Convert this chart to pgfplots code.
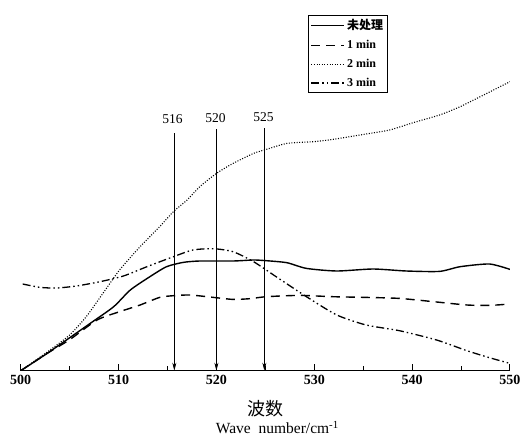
\documentclass[border=0pt]{standalone}
\usepackage{fontspec}
\setmainfont{Liberation Serif}
\newfontfamily\cjk{Noto Sans CJK SC}
\usepackage{pgfplots}
\pgfplotsset{compat=1.18}
\usetikzlibrary{arrows.meta}

\begin{document}
\begin{tikzpicture}
\useasboundingbox (-20.7pt,-74.3pt) rectangle (510.3pt,370.7pt);
\begin{axis}[
    scale only axis,
    width=489.3pt, height=300pt,
    xmin=500, xmax=550, ymin=0, ymax=300,
    axis x line=bottom, axis y line=none,
    axis line style={-, line width=1.3pt},
    xtick={500,510,...,550},
    minor x tick num=1,
    tick align=inside,
    major tick length=7pt, minor tick length=5pt,
    every tick/.style={black, line width=1pt},
    xticklabel style={font=\fontsize{14}{14}\selectfont\bfseries, yshift=-1pt},
    /pgf/number format/assume math mode=true,
    /pgf/number format/1000 sep={},
    xlabel={{\cjk\fontsize{18}{18}\selectfont 波数}\\[3pt]\hspace*{24pt}{\fontsize{15.5}{15.5}\selectfont Wave\ \ number/cm\textsuperscript{-1}}},
    xlabel style={align=center, at={(axis description cs:0.5,0)}, anchor=north, yshift=-26pt},
    legend style={at={(0.587,1.186)}, anchor=north west, draw=black,
        font=\fontsize{12}{12}\selectfont\bfseries, row sep=5pt, inner sep=2.5pt},
    legend cell align=left,
    legend image code/.code={\draw[#1] (0pt,0pt) -- (33pt,0pt);},
]
% 未处理
\addplot[black, line width=1.4pt, smooth, tension=0.4] coordinates {
(500,0) (502.7,17.3) (507.1,47.3) (509.5,64) (511.2,80.7) (513.2,94) (514.9,104)
(516.6,108.3) (518.3,109.7) (521.7,109.7) (523.8,110.7) (525.1,110) (527.2,108)
(529.2,102.3) (532.3,99.7) (536,101.7) (539.4,99.7) (542.8,99.3) (544.9,104)
(547.9,106.7) (550,101.3)};
% 1 min
\addplot[black, line width=1.4pt, dash pattern=on 9pt off 6pt, smooth, tension=0.4] coordinates {
(500,0) (502.7,17.3) (505,31) (507.8,50.7) (510.1,59) (512.2,65.7) (514.2,73.3)
(515.6,75) (517.3,75.7) (519.7,73.3) (521.7,71.3) (523.4,72) (525.1,74) (528.5,75.3)
(531.9,74) (535.3,73.3) (538.7,72.3) (542.2,69) (545.6,65.7) (547.9,65.3) (550,66.7)};
% 2 min
\addplot[black, line width=1.1pt, dash pattern=on 1pt off 1.6pt, smooth, tension=0.4] coordinates {
(500,0) (503,20.7) (505,35.7) (506.7,54) (508.4,77.3) (510.1,100.7) (512.2,124)
(514.2,144) (515.6,159) (517,170.7) (518.3,184) (520,197.3) (521.7,207.3)
(523.8,217.3) (525.1,221.3) (527.2,227.3) (529.9,229) (531.9,231.3) (535.3,236.7)
(537.7,240.7) (540.1,248) (542.8,255.7) (544.9,264) (547.3,275.7) (550,289)};
% 3 min
\addplot[black, line width=1.3pt, dash pattern=on 8pt off 3pt on 1.5pt off 3pt on 1.5pt off 3pt, smooth, tension=0.4] coordinates {
(500.2,86.7) (502,83.3) (503.7,82.7) (505.7,84.7) (508.1,89) (510.5,94.7)
(512.9,104) (515.6,114) (517.6,120.7) (519.7,122) (521.7,119) (523.8,109)
(526.1,94) (529.2,74) (532.3,55.7) (535.3,45.7) (538.7,40) (542.5,30.7)
(545.6,20) (547.9,13) (550,7.3)};
\legend{{\cjk 未处理}, 1 min, 2 min, 3 min}

% peak markers
\addplot[black, line width=0.7pt, -{Stealth[length=8pt, width=4pt]}, forget plot] coordinates {(515.7,237.3) (515.7,0)};
\addplot[black, line width=0.7pt, -{Stealth[length=8pt, width=4pt]}, forget plot] coordinates {(520,241.3) (520,0)};
\addplot[black, line width=0.7pt, -{Stealth[length=8pt, width=4pt]}, forget plot] coordinates {(524.9,242.3) (524.9,0)};
\node[font=\fontsize{13.5}{13.5}\selectfont] at (axis cs:515.5,251.7) {516};
\node[font=\fontsize{13.5}{13.5}\selectfont] at (axis cs:519.9,252.4) {520};
\node[font=\fontsize{13.5}{13.5}\selectfont] at (axis cs:524.8,253.4) {525};
\end{axis}
\end{tikzpicture}
\end{document}
